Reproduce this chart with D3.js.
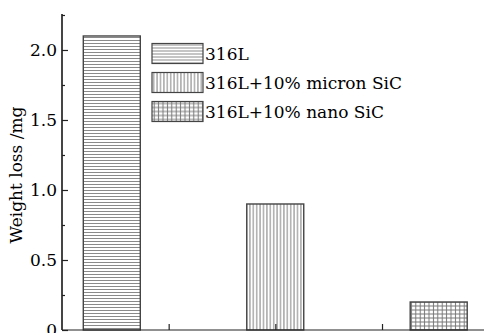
<!DOCTYPE html>
<html><head><meta charset="utf-8">
<script src="https://cdn.jsdelivr.net/npm/d3@7"></script>
<style>body{margin:0;background:#fff}svg{display:block}</style>
</head><body><svg id="c" width="484" height="333"></svg>
<script>
const categories = ["316L", "316L+10% micron SiC", "316L+10% nano SiC"];
const values = [2.1, 0.9, 0.2];
const patterns = ["hlines", "vlines", "grid"];
const yMajorTicks = [0, 0.5, 1.0, 1.5, 2.0];
const yMinorTicks = [0.25, 0.75, 1.25, 1.75, 2.25];
const xTicks = [1, 2, 3];
const yTitle = "Weight loss /mg";

const svg = d3.select("#c");
const font = "DejaVu Serif";
const W = 484, H = 333;
const x0 = 62, yBase = 330;

const y = d3.scaleLinear().domain([0, 2.257]).range([yBase, 14]);
const xAxisScale = d3.scaleLinear().domain([0, 4]).range([x0, x0 + 4 * 106.67]);
const xBar = d3.scalePoint().domain(categories).range([111.8, 438.7]);
const barW = 57;

// patterns
const defs = svg.append("defs");
const lineCol = "#8a8a8a";
let p = defs.append("pattern").attr("id", "hlines").attr("patternUnits", "userSpaceOnUse").attr("width", 6).attr("height", 3);
p.append("line").attr("x1", 0).attr("x2", 6).attr("y1", 1.5).attr("y2", 1.5).attr("stroke", lineCol).attr("stroke-width", 1);
p = defs.append("pattern").attr("id", "vlines").attr("patternUnits", "userSpaceOnUse").attr("width", 3.4).attr("height", 6);
p.append("line").attr("y1", 0).attr("y2", 6).attr("x1", 1.7).attr("x2", 1.7).attr("stroke", lineCol).attr("stroke-width", 1.1);
p = defs.append("pattern").attr("id", "grid").attr("patternUnits", "userSpaceOnUse").attr("width", 4.4).attr("height", 4);
p.append("line").attr("y1", 0).attr("y2", 4).attr("x1", 2.2).attr("x2", 2.2).attr("stroke", "#777").attr("stroke-width", 1);
p.append("line").attr("x1", 0).attr("x2", 4.4).attr("y1", 2).attr("y2", 2).attr("stroke", "#777").attr("stroke-width", 1);

// bars
svg.append("g").selectAll("rect").data(categories).join("rect")
  .attr("x", d => xBar(d) - barW / 2)
  .attr("y", (d, i) => y(values[i]))
  .attr("width", barW)
  .attr("height", (d, i) => yBase - y(values[i]))
  .attr("fill", (d, i) => "url(#" + patterns[i] + ")")
  .attr("stroke", "#444").attr("stroke-width", 1.4);

// y axis
const gy = svg.append("g").attr("transform", `translate(${x0},0)`);
gy.call(d3.axisRight(y).tickValues(yMajorTicks).tickSize(6).tickFormat(""));
gy.append("g").call(d3.axisRight(y).tickValues(yMinorTicks).tickSize(3).tickFormat(""));
gy.selectAll(".domain").attr("d", `M0,${yBase}V14`);
gy.selectAll("path,line").attr("stroke", "#222").attr("stroke-width", 1.2);
gy.selectAll(".ylab").data(yMajorTicks).join("text").attr("class", "ylab")
  .attr("x", -5).attr("y", d => y(d)).attr("dy", "0.36em")
  .attr("text-anchor", "end").attr("font-family", font).attr("font-size", 17).attr("fill", "#000")
  .text(d => d === 0 ? "0" : d.toFixed(1));

// x axis
const gx = svg.append("g").attr("transform", `translate(0,${yBase})`);
gx.call(d3.axisTop(xAxisScale).tickValues(xTicks).tickSize(6).tickFormat(""));
gx.selectAll(".domain").attr("d", `M${x0},0H${W}`);
gx.selectAll("path,line").attr("stroke", "#222").attr("stroke-width", 1.2);

// y title
svg.append("text").attr("transform", "translate(22,175) rotate(-90)")
  .attr("text-anchor", "middle").attr("font-family", font).attr("font-size", 17).attr("fill", "#000")
  .text(yTitle);

// legend
const lg = svg.append("g");
const rows = lg.selectAll("g").data(categories).join("g")
  .attr("transform", (d, i) => `translate(152,${43.5 + i * 29})`);
rows.append("rect").attr("width", 51).attr("height", 20)
  .attr("fill", (d, i) => "url(#" + patterns[i] + ")").attr("stroke", "#444").attr("stroke-width", 1.2);
rows.append("text").attr("x", 53).attr("y", 10).attr("dy", "0.36em")
  .attr("font-family", font).attr("font-size", 17).attr("fill", "#000").text(d => d);
</script></body></html>
